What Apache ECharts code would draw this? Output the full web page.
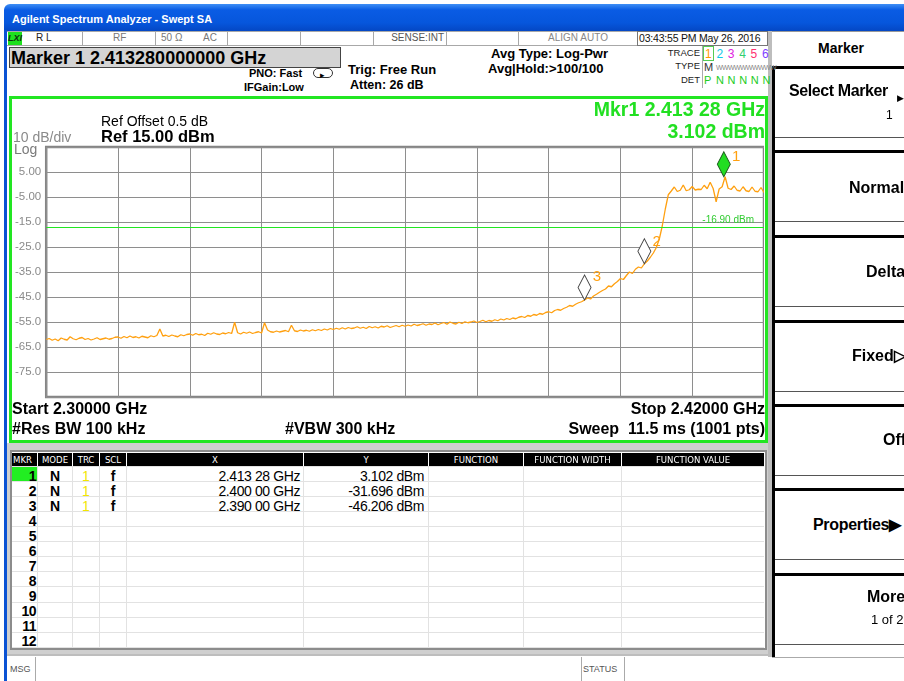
<!DOCTYPE html>
<html><head><meta charset="utf-8">
<script src="https://cdn.jsdelivr.net/npm/echarts@6/dist/echarts.min.js"></script>
<style>
html,body{margin:0;padding:0}
body{width:904px;height:681px;overflow:hidden;background:#fff;font-family:"Liberation Sans",Arial,sans-serif;position:relative}
.a{position:absolute;white-space:pre;line-height:1;z-index:6;color:#000}
#chart{position:absolute;left:12px;top:100px;width:752px;height:340px;z-index:5}
</style></head><body>
<div id="chart"></div>
<script>
// ---------------- data ----------------
var START_GHZ = 2.300;
var STOP_GHZ = 2.420;
var STEP_GHZ = 0.0005;           // trace point spacing (readout resolution)
var traceDbm = [
 -62.0,-61.6,-62.3,-61.8,-62.5,-61.4,-61.9,-62.2,-60.9,-61.7,-62.1,-61.5,-61.2,-62.0,-61.6,-62.2,-61.8,-61.3,-62.0,-61.7,-61.4,-61.9,-61.6,-61.1,
 -61.0,-61.5,-60.8,-61.3,-60.6,-61.2,-60.9,-61.4,-60.7,-61.0,-61.3,-60.5,-60.9,-60.4,-57.8,-60.6,
 -60.3,-60.8,-60.2,-60.6,-60.9,-60.1,-60.5,-60.0,-59.8,
 -60.3,-59.6,-60.1,-59.9,-60.4,-59.5,-59.9,-59.3,-59.8,-60.0,-59.4,-59.7,-59.2,-59.6,
 -55.1,
 -59.3,-59.8,-59.1,-59.5,-59.0,-59.6,-59.2,-58.9,-59.4,
 -55.3,
 -58.2,-58.9,-59.1,-58.6,-59.0,-58.7,-58.4,-58.9,
 -56.3,
 -58.5,-58.8,-58.2,-58.6,-58.3,-58.7,-58.1,
 -58.5,-58.0,-58.4,-57.8,-58.2,-57.6,-58.0,-57.5,-57.9,-57.3,
 -57.8,-57.2,-57.6,-57.4,-56.9,-57.5,-57.1,-57.6,-56.8,-57.3,
 -56.9,-57.4,-56.7,-57.0,-56.5,-57.2,-56.8,-56.4,-56.9,-56.3,
 -56.7,-56.2,-56.6,-55.9,-56.4,-56.1,-55.7,-56.3,-55.8,-56.0,
 -55.4,-56.1,-55.6,-55.2,-55.9,-55.0,-55.5,-55.8,-55.1,-55.6,
 -54.9,-55.3,-55.0,-54.6,-55.2,-54.8,-54.3,-54.9,-54.4,-54.7,
 -54.1,-54.5,-53.8,-54.2,-53.6,-54.0,-53.4,-53.7,-53.1,-52.8,
 -53.2,-52.4,-52.7,-52.0,-52.3,-51.6,-51.9,-51.2,-50.9,-51.3,
 -50.4,-50.0,-50.3,-49.6,-49.1,-48.4,-48.7,-47.9,-47.3,-46.9,
 -46.2,-45.4,-45.8,-44.6,-43.9,-43.1,-42.4,-41.8,-40.6,-40.9,
 -39.7,-38.8,-37.6,-38.0,-36.4,-35.0,-35.6,-33.9,-33.0,-33.4,
 -31.7,-30.6,-29.1,-27.4,-25.2,-21.8,-16.5,-9.8,-4.1,-2.6,
 -1.0,-2.8,-2.3,-0.2,-2.5,-2.1,-0.8,-2.2,-1.9,-2.0,
 -0.3,-1.7,0.9,-1.6,-6.9,-1.8,-0.9,3.1,-1.5,-2.0,
 -0.6,-2.3,-2.6,-0.9,-2.5,-2.8,-1.0,-2.7,-2.9,-1.2,-3.2
];
var REF_DBM = 15;
var BOTTOM_DBM = -85;
var DB_PER_DIV = 10;
var DISPLAY_LINE_DBM = -16.90;
var markerNames = ['1','2','3'];
var markerFreqGHz = [2.41328, 2.400, 2.390];
var markerDbm = [3.102, -31.696, -46.206];
var markerXText = ['2.413 28 GHz','2.400 00 GHz','2.390 00 GHz'];
var markerYText = ['3.102 dBm','-31.696 dBm','-46.206 dBm'];
var tableCols = ['MKR','MODE','TRC','SCL','X','Y','FUNCTION','FUNCTION WIDTH','FUNCTION VALUE'];

// ---------------- helpers ----------------
function T(s,x,y,fs,o){o=o||{};var e=document.createElement('div');e.className='a';e.textContent=s;
 e.style.fontSize=fs+'px';e.style.top=(y-0.49*fs)+'px';
 if(o.al==='r'){e.style.right=(904-x)+'px';}else if(o.al==='c'){e.style.left=x+'px';e.style.transform='translateX(-50%)';}else{e.style.left=x+'px';}
 if(o.b)e.style.fontWeight='bold';if(o.i)e.style.fontStyle='italic';if(o.c)e.style.color=o.c;if(o.f)e.style.fontFamily=o.f;if(o.ls)e.style.letterSpacing=o.ls;
 document.body.appendChild(e);return e;}
function R(x,y,w,h,css){var e=document.createElement('div');e.style.cssText='position:absolute;left:'+x+'px;top:'+y+'px;width:'+w+'px;height:'+h+'px;box-sizing:border-box;'+(css||'');document.body.appendChild(e);return e;}

// ---------------- window chrome ----------------
R(4,4,900,27,'background:linear-gradient(#3f8ff5 0%,#0a5ce4 22%,#0656dc 70%,#0447c4 100%);border-radius:6px 0 0 0');
T('Agilent Spectrum Analyzer - Swept SA',12,19,11,{b:1,c:'#fff'});
R(4,30,3,651,'background:#0a52d4');
// status row
R(7,31,761,15,'border-top:1px solid #a8a8a8;border-bottom:1px solid #a8a8a8;background:#fff');
[82,155,227,300,373,446,518,637].forEach(function(x){R(x,31,1,15,'background:#a8a8a8');});
R(637,31,131,15,'border:1px solid #777');
R(8,32,14,13,'background:#1ee01e');
T('LXI',8,38.5,9,{b:1,i:1,c:'#103010'});
T('R L',36,38,10,{c:'#222'});
T('RF',113,38,10,{c:'#777'});
T('50 \u03A9',161,38,10,{c:'#777'});
T('AC',203,38,10,{c:'#777'});
T('SENSE:INT',444,38,10,{al:'r',c:'#555'});
T('ALIGN AUTO',578,38,10,{al:'c',c:'#888'});
T('03:43:55 PM May 26, 2016',639,38,10.5,{c:'#111',ls:'-0.2px'});
// marker readout row
R(9,47,332,21,'background:#d4d4d4;border:1px solid #444');
T('Marker 1 2.413280000000 GHz',11,57.5,18,{b:1});
T('PNO: Fast',249,73,11,{b:1});
R(313,68,20,10,'border:1px solid #333;border-radius:5px');
T('\u25B8',320,75,9,{});
T('IFGain:Low',244,87,11,{b:1});
T('Trig: Free Run',348,69,13,{b:1});
T('Atten: 26 dB',350,85,12.5,{b:1});
T('Avg Type: Log-Pwr',491,53,13,{b:1});
T('Avg|Hold:>100/100',488,68,13,{b:1});
T('TRACE',700,53,9.5,{al:'r',c:'#222'});
T('TYPE',700,66,9.5,{al:'r',c:'#222'});
T('DET',700,80,9.5,{al:'r',c:'#222'});
R(702,46,1,42,'background:#aaa');
R(703,46,11,15,'border:1px solid #55cc55');
var trCol=['#ff9a00','#10c8e8','#e020e0','#30d070','#ff3070','#8040ff'];
for(var k=0;k<6;k++){T(String(k+1),705+k*11.4,53.5,12,{c:trCol[k]});}
T('M',704,67,11,{c:'#333'});
T('WWWWWWWWWW',716,67,7,{c:'#888',ls:'-0.6px'});
T('P',704,80,11,{c:'#22cc22'});
T('N N N N N',716,80,11,{c:'#22cc22',ls:'0.3px'});

// green plot frame
R(9,96,759,347,'border:3px solid #22e622');
T('Ref Offset 0.5 dB',101,120.5,14,{});
T('Ref 15.00 dBm',101,136.5,16.5,{b:1});
T('10 dB/div',13,137,14,{c:'#8a8a8a'});
T('Log',14,149,14,{c:'#7a7a7a'});
T('Mkr1 2.413 28 GHz',765,110,19.5,{al:'r',b:1,c:'#22e022'});
T('3.102 dBm',765,131.5,19.5,{al:'r',b:1,c:'#22e022'});
T('Start 2.30000 GHz',12,409,16,{b:1});
T('#Res BW 100 kHz',12,428.5,16,{b:1});
T('#VBW 300 kHz',285,428.5,16,{b:1});
T('Stop 2.42000 GHz',765,409,16,{al:'r',b:1});
T('Sweep  11.5 ms (1001 pts)',765,428.5,16,{al:'r',b:1});

// marker table
R(7,443,761,214,'background:#cfcfcf');
R(10,450,757,200,'background:#fff;border:2px solid #8c8c8c');
var colX=[12,38,73,100,127,304,429,524,622,765];
for(var c=0;c<9;c++){
  R(colX[c],453,colX[c+1]-colX[c]-1,13,'background:#000');
  var cx=(c===0)?13:(colX[c]+colX[c+1]-1)/2;
  T(tableCols[c],cx,459.5,9.5,{al:c===0?'l':'c',c:'#fff',f:'"DejaVu Sans Condensed","DejaVu Sans",sans-serif'});
}
for(var r=0;r<=12;r++){R(12,466+r*15.06,752,1,'background:#e2e2e2');}
for(var c2=1;c2<9;c2++){R(colX[c2]-1,466,1,181,'background:#e2e2e2');}
R(12,467,25,14,'background:#22ee22');
for(var r2=1;r2<=12;r2++){
  var yy=475.5+(r2-1)*15.06;
  T(String(r2),36,yy,14,{al:'r',b:1,ls:'-0.5px'});
  if(r2<=markerNames.length){
    T('N',55,yy,14,{al:'c',b:1});
    T('1',86,yy,14,{al:'c',c:'#f2e600'});
    T('f',113,yy,14,{al:'c',b:1});
    T(markerXText[r2-1],300,yy,14,{al:'r',ls:'-0.4px'});
    T(markerYText[r2-1],424,yy,14,{al:'r',ls:'-0.4px'});
  }
}
// bottom status bar
R(7,654,761,27,'background:#fff;border-top:2px solid #bdbdbd');
R(35,657,1,24,'background:#aaa');
T('MSG',10,669,9,{c:'#555'});
R(581,657,44,24,'border-left:1px solid #aaa;border-right:1px solid #aaa');
T('STATUS',583,669,9,{c:'#555'});

// right softkey panel
R(768,31,4,626,'background:#bdbdbd');
R(772,31,132,1,'background:#999');
T('Marker',841,48,14,{al:'c',b:1});
R(772,66,3,591,'background:#000');
[66,150,235,320,404,488,573].forEach(function(t){R(772,t,132,3,'background:#000');R(775,t+71,129,1,'background:#555');});
R(772,657,132,24,'background:#fff;border-top:1px solid #aaa');
T('Select Marker',789,91,16,{b:1,ls:'-0.4px'});
T('\u25B6',897,98,9,{});
T('1',886,115,12,{});
T('Normal',849,187.5,16,{b:1});
T('Delta',866,271.5,16,{b:1});
T('Fixed\u25B7',852,355.5,16,{b:1});
T('Off',883,440,16,{b:1});
T('Properties\u25B6',813,525,16,{b:1,ls:'-0.3px'});
T('More',867,597,16,{b:1});
T('1 of 2',871,619,13,{});

// ---------------- chart ----------------
var pts = traceDbm.map(function(v,i){return [START_GHZ + i*STEP_GHZ, v];});
var mpStyle = [
  {color:'#22dd22',borderColor:'#1d5a1d'},
  {color:'#ffffff',borderColor:'#444444'},
  {color:'#ffffff',borderColor:'#444444'}
];
var mpLabelPos = [[15,-2],[15,-4],[15,-5]];
var mpData = markerNames.map(function(n,i){
  return {coord:[markerFreqGHz[i], markerDbm[i]], symbol:'diamond', symbolSize:[13,25], symbolOffset:[0,'-50%'],
    itemStyle:{color:mpStyle[i].color,borderColor:mpStyle[i].borderColor,borderWidth:1},
    label:{show:true,formatter:n,position:mpLabelPos[i],color:'#ffa010',fontSize:15,fontFamily:'Liberation Sans'}};
});
var chart = echarts.init(document.getElementById('chart'), null, {renderer:'canvas'});
chart.setOption({
  animation:false,
  grid:{left:34,top:47,width:720,height:250,show:true,borderColor:'#858585',borderWidth:2.5,backgroundColor:'transparent'},
  xAxis:{type:'value',min:START_GHZ,max:STOP_GHZ,interval:(STOP_GHZ-START_GHZ)/10,
    axisLine:{show:false},axisTick:{show:false},axisLabel:{show:false},
    splitLine:{show:true,lineStyle:{color:'#8e8e8e',width:1}}},
  yAxis:{type:'value',min:BOTTOM_DBM,max:REF_DBM,interval:DB_PER_DIV,
    axisLine:{show:false},axisTick:{show:false},
    axisLabel:{color:'#8a8a8a',fontSize:11.5,margin:5,fontFamily:'Liberation Sans',
      formatter:function(v){ if(v>=REF_DBM-0.01||v<=BOTTOM_DBM+0.01) return ''; return Math.abs(v)<10 ? v.toFixed(2) : v.toFixed(1);} },
    splitLine:{show:true,lineStyle:{color:'#8e8e8e',width:1}}},
  series:[{
    type:'line', data:pts, symbol:'none', silent:true,
    lineStyle:{color:'#ffa010',width:1.3},
    markLine:{symbol:'none',silent:true,data:[{yAxis:DISPLAY_LINE_DBM}],
      lineStyle:{color:'#22e622',width:1,type:'solid'},
      label:{show:true,position:'insideEndTop',formatter:'-16.90 dBm',color:'#33cc33',fontSize:10,distance:[10,2],fontFamily:'Liberation Sans'}},
    markPoint:{silent:true,data:mpData}
  }]
});
</script>
</body></html>
